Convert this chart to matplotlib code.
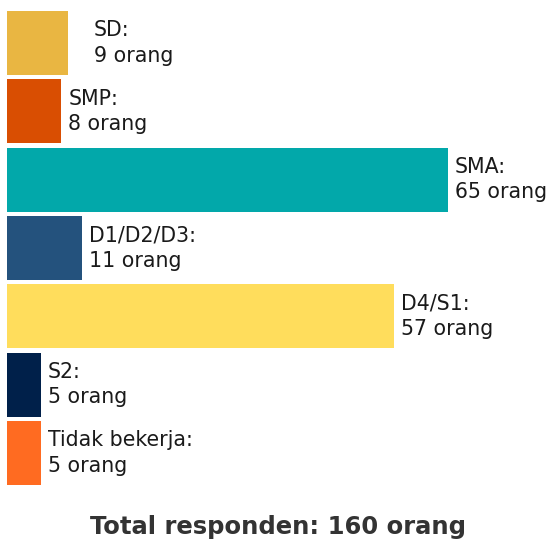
import matplotlib
matplotlib.use("Agg")
import matplotlib.pyplot as plt

categories = ["SD", "SMP", "SMA", "D1/D2/D3", "D4/S1", "S2", "Tidak bekerja"]
values = [9, 8, 65, 11, 57, 5, 5]
colors = ["#E9B642", "#D94E02", "#02A8AA", "#24527D", "#FFDD5C", "#00204A", "#FF6B21"]
total_label = "Total responden: 160 orang"

W, H, DPI = 552, 540, 100
fig = plt.figure(figsize=(W / DPI, H / DPI), dpi=DPI)
ax = fig.add_axes([7 / W, 0, 1 - 7 / W, 1])
pitch = 68.33
ax.set_xlim(0, (W - 7) / 6.785)
ax.set_ylim((H - 43) / pitch, -43 / pitch)
ax.axis("off")

ys = list(range(len(categories)))
ax.barh(ys, values, height=0.937, color=colors, left=0)
for y, c, v in zip(ys, categories, values):
    extra = 19 if c == "SD" else 0
    ax.annotate(f"{c}:\n{v} orang", xy=(v, y), xytext=(7 + extra, 0),
                textcoords="offset pixels", va="center", ha="left",
                fontsize=14.8, color="#1a1a1a", linespacing=1.35,
                family="DejaVu Sans")

fig.text(278 / W, 1 - 527 / H, total_label, ha="center", va="center",
         fontsize=17.5, fontweight="bold", color="#333333", family="DejaVu Sans")

fig.savefig("out.png", dpi=DPI)
